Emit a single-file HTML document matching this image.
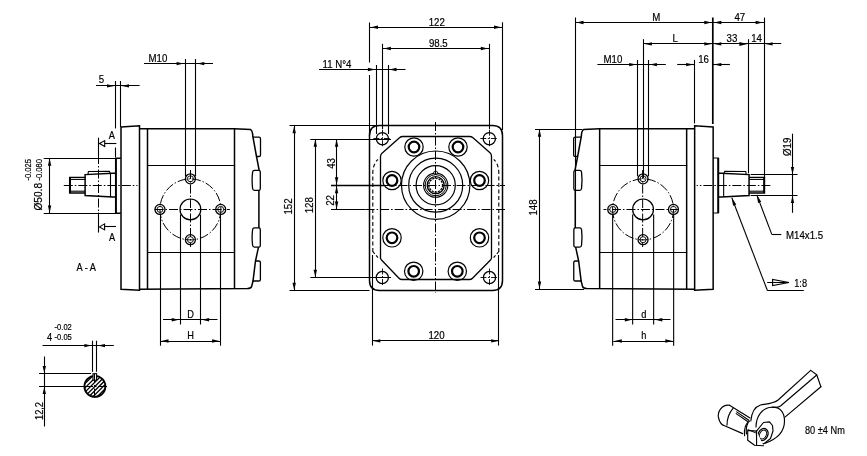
<!DOCTYPE html>
<html><head><meta charset="utf-8"><style>
html,body{margin:0;padding:0;background:#fff;}
svg{display:block;will-change:transform;}
text{font-family:"Liberation Sans",sans-serif;fill:#000;stroke:#000;stroke-width:0.2px;}
</style></head><body>
<svg width="867" height="456" viewBox="0 0 867 456">
<rect x="0" y="0" width="867" height="456" fill="#fff"/>
<g stroke="#000" fill="none" stroke-linecap="butt">
<path d="M121,127 L139.5,125.8 L139.5,290.2 L121,289.2 Z" stroke-width="1.5" fill="none" />
<path d="M139.5,128.8 L234.5,128.8 L250.6,129.6 Q252.6,130.6 252.8,136.2 L256.5,156.5 L259.2,170.4 M258.9,190.3 L258.9,227.9 M258.5,247.1 L255.5,261 L253,281 L251.6,286.6 Q250.8,288.4 247.5,288.6 L139.5,289.2" stroke-width="1.5" fill="none" />
<line x1="147.5" y1="128.8" x2="147.5" y2="289.2" stroke-width="1.5" />
<line x1="234.5" y1="128.8" x2="234.5" y2="289" stroke-width="1.5" />
<line x1="147" y1="165.5" x2="234.5" y2="165.5" stroke-width="1.2" />
<line x1="147" y1="252.5" x2="234.5" y2="252.5" stroke-width="1.2" />
<path d="M253,137.2 L258.9,137.2 Q260.5,137.2 260.5,138.8 L260.5,154.9 Q260.5,156.5 258.9,156.5 L256.5,156.5" stroke-width="1.3" fill="none" />
<path d="M254.5,170.4 L258.7,170.4 Q260.3,170.4 260.3,172.0 L260.3,188.7 Q260.3,190.3 258.7,190.3 L254.5,190.3 Q252.8,190.3 252.6,188.5 Q251.6,180.35000000000002 252.6,172.2 Q252.8,170.4 254.5,170.4 Z" stroke-width="1.3" fill="none" />
<path d="M254.5,227.9 L258.7,227.9 Q260.3,227.9 260.3,229.5 L260.3,245.5 Q260.3,247.1 258.7,247.1 L254.5,247.1 Q252.8,247.1 252.6,245.3 Q251.6,237.5 252.6,229.7 Q252.8,227.9 254.5,227.9 Z" stroke-width="1.3" fill="none" />
<path d="M255.5,261 L258.8,261 Q260.4,261 260.4,262.6 L260.4,279.4 Q260.4,281 258.8,281 L253,281" stroke-width="1.3" fill="none" />
<path d="M121,158 L115.9,158 L115.9,213 L121,213" stroke-width="1.1" fill="none" />
<line x1="115.9" y1="158" x2="115.9" y2="213" stroke-width="1.9" />
<path d="M115.9,173.3 L112.8,173.3 L85.1,174.6 L85.1,195.6 L112.8,197.0 L115.9,197.0" stroke-width="1.5" fill="none" />
<line x1="110.5" y1="173.5" x2="110.5" y2="197" stroke-width="1.1" />
<path d="M110.2,173.3 L109.4,171.3 L88.4,171.5 L88,174.4" stroke-width="1.1" fill="none" />
<path d="M85.1,177.4 L69.6,177.4 L69.6,193 L85.1,193" stroke-width="1.3" fill="none" />
<line x1="70.4" y1="177.4" x2="70.4" y2="193" stroke-width="1.2" />
<line x1="69.6" y1="179.4" x2="85.1" y2="179.4" stroke-width="1.1" />
<line x1="69.6" y1="191.2" x2="85.1" y2="191.2" stroke-width="1.1" />
<circle cx="190.4" cy="209.4" r="30.5" stroke-width="1.0" fill="none" stroke-dasharray="9 2 1.5 2"/>
<circle cx="190.4" cy="209.4" r="10.4" stroke-width="1.2" fill="none" />
<circle cx="190.4" cy="178.8" r="5" stroke-width="1.3" fill="none" />
<circle cx="190.4" cy="178.8" r="3" stroke-width="0.9" fill="none" />
<circle cx="160" cy="209.4" r="5" stroke-width="1.3" fill="none" />
<circle cx="160" cy="209.4" r="3" stroke-width="0.9" fill="none" />
<circle cx="220.7" cy="209.4" r="5" stroke-width="1.3" fill="none" />
<circle cx="220.7" cy="209.4" r="3" stroke-width="0.9" fill="none" />
<circle cx="190.4" cy="239.7" r="5" stroke-width="1.3" fill="none" />
<circle cx="190.4" cy="239.7" r="3" stroke-width="0.9" fill="none" />
<line x1="154.5" y1="209.5" x2="229.9" y2="209.5" stroke-width="1.0" stroke-dasharray="9 2 1.5 2" stroke-dashoffset="0"/>
<line x1="190.5" y1="170" x2="190.5" y2="247" stroke-width="1.0" stroke-dasharray="9 2 1.5 2" stroke-dashoffset="0"/>
<line x1="160.5" y1="214.5" x2="160.5" y2="345.7" stroke-width="1.1" />
<line x1="220.5" y1="214.5" x2="220.5" y2="345.7" stroke-width="1.1" />
<line x1="180.5" y1="214.5" x2="180.5" y2="324.5" stroke-width="1.1" />
<line x1="200.5" y1="214.5" x2="200.5" y2="324.5" stroke-width="1.1" />
<line x1="63.8" y1="185.5" x2="137.5" y2="185.5" stroke-width="1.0" stroke-dasharray="9 2 1.5 2" stroke-dashoffset="0"/>
<line x1="185.5" y1="59" x2="185.5" y2="176.3" stroke-width="1.1" />
<line x1="195.5" y1="59" x2="195.5" y2="176.3" stroke-width="1.1" />
<line x1="96" y1="85.5" x2="139.6" y2="85.5" stroke-width="1.1" />
<polygon points="114.2,85.9 107,84.2 107,87.6" stroke="none" fill="#000"/>
<polygon points="121.8,85.9 129,84.2 129,87.6" stroke="none" fill="#000"/>
<text transform="translate(98.8,82.8) scale(0.88,1)" font-size="11" text-anchor="start">5</text>
<line x1="115.5" y1="81" x2="115.5" y2="128.5" stroke-width="1.1" />
<line x1="115.5" y1="147.5" x2="115.5" y2="157.5" stroke-width="1.1" />
<line x1="120.5" y1="81" x2="120.5" y2="127" stroke-width="1.1" />
<line x1="144" y1="63.5" x2="213" y2="63.5" stroke-width="1.1" />
<polygon points="183.8,63.6 176.6,61.9 176.6,65.3" stroke="none" fill="#000"/>
<polygon points="197.1,63.6 204.3,61.9 204.3,65.3" stroke="none" fill="#000"/>
<text transform="translate(148.5,62) scale(0.88,1)" font-size="11" text-anchor="start">M10</text>
<line x1="98.5" y1="155" x2="98.5" y2="213" stroke-width="1.0" stroke-dasharray="9 2 1.5 2" stroke-dashoffset="0"/>
<line x1="98.5" y1="137.7" x2="98.5" y2="155.7" stroke-width="1.1" />
<line x1="98.5" y1="212.5" x2="98.5" y2="232.6" stroke-width="1.1" />
<path d="M99.5,143.6 L104.7,140.6 L104.7,146.6 Z" stroke-width="1.1" fill="none" />
<line x1="104.7" y1="143.5" x2="116.4" y2="143.5" stroke-width="1.1" />
<path d="M99.5,226.9 L104.6,223.9 L104.6,229.9 Z" stroke-width="1.1" fill="none" />
<line x1="104.6" y1="226.5" x2="116" y2="226.5" stroke-width="1.1" />
<text transform="translate(108.8,139.3) scale(0.88,1)" font-size="10.5" text-anchor="start">A</text>
<text transform="translate(109,240.7) scale(0.88,1)" font-size="10.5" text-anchor="start">A</text>
<text transform="translate(76.5,270.5) scale(0.88,1)" font-size="10.5" text-anchor="start">A - A</text>
<line x1="43.7" y1="158.5" x2="120.6" y2="158.5" stroke-width="1.1" />
<line x1="43.7" y1="213.5" x2="120.6" y2="213.5" stroke-width="1.1" />
<line x1="49.5" y1="158" x2="49.5" y2="213.2" stroke-width="1.1" />
<polygon points="49.6,158.5 47.9,165.7 51.3,165.7" stroke="none" fill="#000"/>
<polygon points="49.6,212.7 47.9,205.5 51.3,205.5" stroke="none" fill="#000"/>
<text transform="translate(42,210.5) rotate(-90) scale(0.88,1)" font-size="11.5" text-anchor="start">Ø50.8</text>
<text transform="translate(42.2,180.5) rotate(-90) scale(0.84,1)" font-size="9" text-anchor="start">-0.080</text>
<text transform="translate(31.2,180.5) rotate(-90) scale(0.84,1)" font-size="9" text-anchor="start">-0.025</text>
<line x1="163" y1="319.5" x2="217.5" y2="319.5" stroke-width="1.1" />
<polygon points="178.9,319.8 171.7,318.1 171.7,321.5" stroke="none" fill="#000"/>
<polygon points="201.9,319.8 209.1,318.1 209.1,321.5" stroke="none" fill="#000"/>
<text transform="translate(190.5,318.2) scale(0.88,1)" font-size="10.5" text-anchor="middle">D</text>
<line x1="160" y1="341.5" x2="220.6" y2="341.5" stroke-width="1.1" />
<polygon points="161.3,341 168.5,339.3 168.5,342.7" stroke="none" fill="#000"/>
<polygon points="219.3,341 212.1,339.3 212.1,342.7" stroke="none" fill="#000"/>
<text transform="translate(190.5,339) scale(0.88,1)" font-size="10.5" text-anchor="middle">H</text>
<line x1="42.5" y1="345.5" x2="113.8" y2="345.5" stroke-width="1.1" />
<polygon points="91.6,345.6 84.4,343.9 84.4,347.3" stroke="none" fill="#000"/>
<polygon points="97.8,345.6 105,343.9 105,347.3" stroke="none" fill="#000"/>
<line x1="92.5" y1="340.7" x2="92.5" y2="371.8" stroke-width="1.1" />
<line x1="96.5" y1="340.7" x2="96.5" y2="371.8" stroke-width="1.1" />
<text transform="translate(47,340.8) scale(0.88,1)" font-size="10.5" text-anchor="start">4</text>
<text transform="translate(54.6,339.8) scale(0.84,1)" font-size="9" text-anchor="start">-0.05</text>
<text transform="translate(54.6,329.8) scale(0.84,1)" font-size="9" text-anchor="start">-0.02</text>
<line x1="39" y1="373.5" x2="91" y2="373.5" stroke-width="1.1" />
<line x1="39" y1="386.5" x2="90" y2="386.5" stroke-width="1.1" />
<line x1="44.5" y1="356.5" x2="44.5" y2="426.5" stroke-width="1.1" />
<polygon points="44.3,373.1 42.6,365.9 46,365.9" stroke="none" fill="#000"/>
<polygon points="44.3,386.9 42.6,394.1 46,394.1" stroke="none" fill="#000"/>
<text transform="translate(42.5,420) rotate(-90) scale(0.88,1)" font-size="10.5" text-anchor="start">12,2</text>
<defs><clipPath id="kc"><circle cx="94.9" cy="386.4" r="10.4"/></clipPath></defs>
<g clip-path="url(#kc)">
<line x1="55.7" y1="400.4" x2="83.7" y2="372.4" stroke-width="1.3" />
<line x1="59.9" y1="400.4" x2="87.9" y2="372.4" stroke-width="1.3" />
<line x1="64.1" y1="400.4" x2="92.1" y2="372.4" stroke-width="1.3" />
<line x1="68.3" y1="400.4" x2="96.3" y2="372.4" stroke-width="1.3" />
<line x1="72.5" y1="400.4" x2="100.5" y2="372.4" stroke-width="1.3" />
<line x1="76.7" y1="400.4" x2="104.7" y2="372.4" stroke-width="1.3" />
<line x1="80.9" y1="400.4" x2="108.9" y2="372.4" stroke-width="1.3" />
<line x1="85.1" y1="400.4" x2="113.1" y2="372.4" stroke-width="1.3" />
<line x1="89.3" y1="400.4" x2="117.3" y2="372.4" stroke-width="1.3" />
<line x1="93.5" y1="400.4" x2="121.5" y2="372.4" stroke-width="1.3" />
<line x1="97.7" y1="400.4" x2="125.7" y2="372.4" stroke-width="1.3" />
<line x1="101.9" y1="400.4" x2="129.9" y2="372.4" stroke-width="1.3" />
<line x1="106.1" y1="400.4" x2="134.1" y2="372.4" stroke-width="1.3" />
</g>
<circle cx="94.9" cy="386.4" r="10.5" stroke-width="1.8" fill="none" />
<rect x="93" y="373.7" width="3.6" height="6.5" fill="#fff" stroke-width="1.1"/>
<line x1="84" y1="386.5" x2="107" y2="386.5" stroke-width="1.0" stroke-dasharray="9 2 1.5 2" stroke-dashoffset="0"/>
<line x1="94.5" y1="374" x2="94.5" y2="398" stroke-width="1.0" stroke-dasharray="9 2 1.5 2" stroke-dashoffset="0"/>
<path d="M369.5,280.5 L369.5,135.5 Q369.5,125.5 379.5,125.5 L492.5,125.5 Q502.5,125.5 502.5,135.5 L502.5,280.5 Q502.5,290.5 492.5,290.5 L379.5,290.5 Q369.5,290.5 369.5,280.5 Z" stroke-width="1.5" fill="none" />
<path d="M380.5,258.8 L380.5,156.5 Q380.5,154.5 382,153.2 L399.5,137.8 Q400.8,136.5 403,136.5 L469.5,136.5 Q471.5,136.5 473,137.8 L490,152.8 Q491.5,154.2 491.5,156.2 L491.5,257.5 Q491.5,259 490.5,260 L472.5,278.2 Q471.3,279.5 469.5,279.5 L402,279.5 Q400.2,279.5 399,278.2 L381.5,260 Q380.5,259 380.5,257.5 Z" stroke-width="1.3" fill="none" />
<path d="M372.8,252 L372.8,172 Q373.5,163 378,159.5" stroke-width="1.1" fill="none" stroke-dasharray="4 2.5"/>
<path d="M498.8,252 L498.8,172 Q498.2,163 493.7,159.5" stroke-width="1.1" fill="none" stroke-dasharray="4 2.5"/>
<path d="M372.8,251.5 L378.7,258.4" stroke-width="1.1" fill="none" stroke-dasharray="3 2"/>
<path d="M498.8,251.5 L492.9,258.4" stroke-width="1.1" fill="none" stroke-dasharray="3 2"/>
<circle cx="382.4" cy="138.7" r="6.1" stroke-width="1.3" fill="none" />
<line x1="373.4" y1="138.5" x2="391.4" y2="138.5" stroke-width="0.9" stroke-dasharray="6 1.5 1.5 1.5" stroke-dashoffset="0"/>
<line x1="382.5" y1="129.7" x2="382.5" y2="147.7" stroke-width="0.9" stroke-dasharray="6 1.5 1.5 1.5" stroke-dashoffset="0"/>
<circle cx="489.3" cy="138.7" r="6.1" stroke-width="1.3" fill="none" />
<line x1="480.3" y1="138.5" x2="498.3" y2="138.5" stroke-width="0.9" stroke-dasharray="6 1.5 1.5 1.5" stroke-dashoffset="0"/>
<line x1="489.5" y1="129.7" x2="489.5" y2="147.7" stroke-width="0.9" stroke-dasharray="6 1.5 1.5 1.5" stroke-dashoffset="0"/>
<circle cx="382.3" cy="277.5" r="6.1" stroke-width="1.3" fill="none" />
<line x1="373.3" y1="277.5" x2="391.3" y2="277.5" stroke-width="0.9" stroke-dasharray="6 1.5 1.5 1.5" stroke-dashoffset="0"/>
<line x1="382.5" y1="268.5" x2="382.5" y2="286.5" stroke-width="0.9" stroke-dasharray="6 1.5 1.5 1.5" stroke-dashoffset="0"/>
<circle cx="489.5" cy="277.5" r="6.1" stroke-width="1.3" fill="none" />
<line x1="480.5" y1="277.5" x2="498.5" y2="277.5" stroke-width="0.9" stroke-dasharray="6 1.5 1.5 1.5" stroke-dashoffset="0"/>
<line x1="489.5" y1="268.5" x2="489.5" y2="286.5" stroke-width="0.9" stroke-dasharray="6 1.5 1.5 1.5" stroke-dashoffset="0"/>
<circle cx="414" cy="147" r="9.2" stroke-width="1.2" fill="none" />
<circle cx="414" cy="147" r="5.3" stroke-width="2.2" fill="none" />
<circle cx="458" cy="147" r="9.2" stroke-width="1.2" fill="none" />
<circle cx="458" cy="147" r="5.3" stroke-width="2.2" fill="none" />
<circle cx="392" cy="180.5" r="9.2" stroke-width="1.2" fill="none" />
<circle cx="392" cy="180.5" r="5.3" stroke-width="2.2" fill="none" />
<circle cx="479.5" cy="180.5" r="9.2" stroke-width="1.2" fill="none" />
<circle cx="479.5" cy="180.5" r="5.3" stroke-width="2.2" fill="none" />
<circle cx="392" cy="237.8" r="9.2" stroke-width="1.2" fill="none" />
<circle cx="392" cy="237.8" r="5.3" stroke-width="2.2" fill="none" />
<circle cx="479.5" cy="237.8" r="9.2" stroke-width="1.2" fill="none" />
<circle cx="479.5" cy="237.8" r="5.3" stroke-width="2.2" fill="none" />
<circle cx="413.7" cy="271.3" r="9.2" stroke-width="1.2" fill="none" />
<circle cx="413.7" cy="271.3" r="5.3" stroke-width="2.2" fill="none" />
<circle cx="457.3" cy="271.3" r="9.2" stroke-width="1.2" fill="none" />
<circle cx="457.3" cy="271.3" r="5.3" stroke-width="2.2" fill="none" />
<circle cx="435.7" cy="185.2" r="34.2" stroke-width="1.2" fill="none" />
<circle cx="435.7" cy="185.2" r="27" stroke-width="1.2" fill="none" />
<circle cx="435.7" cy="185.2" r="19.6" stroke-width="1.2" fill="none" />
<circle cx="435.7" cy="185.2" r="12.1" stroke-width="1.1" fill="none" />
<circle cx="435.7" cy="185.2" r="10.6" stroke-width="1.0" fill="none" />
<circle cx="435.7" cy="185.2" r="8.5" stroke-width="1.3" fill="none" />
<circle cx="435.7" cy="185.2" r="6.9" stroke-width="1.3" fill="none" stroke-dasharray="2.2 1"/>
<rect x="433.8" y="171.4" width="3.6" height="2.6" rx="0.8" stroke-width="1" fill="#fff"/>
<line x1="435.5" y1="122" x2="435.5" y2="293" stroke-width="1.0" stroke-dasharray="9 2 1.5 2" stroke-dashoffset="0"/>
<line x1="331" y1="185.5" x2="384" y2="185.5" stroke-width="1.3" />
<line x1="384" y1="185.5" x2="505" y2="185.5" stroke-width="1.0" stroke-dasharray="9 2 1.5 2" stroke-dashoffset="0"/>
<line x1="331" y1="209.5" x2="365.6" y2="209.5" stroke-width="1.2" />
<line x1="365.6" y1="209.5" x2="505" y2="209.5" stroke-width="1.0" stroke-dasharray="9 2 1.5 2" stroke-dashoffset="0"/>
<line x1="369.5" y1="22.5" x2="369.5" y2="62.5" stroke-width="1.1" />
<line x1="369.5" y1="75" x2="369.5" y2="136" stroke-width="1.1" />
<line x1="369.5" y1="27.5" x2="502.5" y2="27.5" stroke-width="1.1" />
<polygon points="370.8,27.3 378,25.6 378,29" stroke="none" fill="#000"/>
<polygon points="501.2,27.3 494,25.6 494,29" stroke="none" fill="#000"/>
<line x1="502.5" y1="22.3" x2="502.5" y2="130" stroke-width="1.1" />
<text transform="translate(436.8,25.6) scale(0.88,1)" font-size="11" text-anchor="middle">122</text>
<line x1="382.5" y1="43.8" x2="382.5" y2="129" stroke-width="1.1" />
<line x1="489.5" y1="43.8" x2="489.5" y2="129" stroke-width="1.1" />
<line x1="382.4" y1="48.5" x2="489.3" y2="48.5" stroke-width="1.1" />
<polygon points="383.7,48.5 390.9,46.8 390.9,50.2" stroke="none" fill="#000"/>
<polygon points="488,48.5 480.8,46.8 480.8,50.2" stroke="none" fill="#000"/>
<text transform="translate(438.3,46.8) scale(0.88,1)" font-size="11" text-anchor="middle">98.5</text>
<line x1="376.5" y1="65" x2="376.5" y2="134" stroke-width="1.1" />
<line x1="388.5" y1="65" x2="388.5" y2="134" stroke-width="1.1" />
<line x1="319" y1="69.5" x2="405.5" y2="69.5" stroke-width="1.1" />
<polygon points="375.1,69.5 367.9,67.8 367.9,71.2" stroke="none" fill="#000"/>
<polygon points="389.3,69.5 396.5,67.8 396.5,71.2" stroke="none" fill="#000"/>
<text transform="translate(322.5,68.2) scale(0.88,1)" font-size="11" text-anchor="start">11 N°4</text>
<line x1="289.5" y1="125.5" x2="380" y2="125.5" stroke-width="1.1" />
<line x1="289.5" y1="290.5" x2="369.5" y2="290.5" stroke-width="1.1" />
<line x1="294.5" y1="125.5" x2="294.5" y2="290.5" stroke-width="1.1" />
<polygon points="294.2,126 292.5,133.2 295.9,133.2" stroke="none" fill="#000"/>
<polygon points="294.2,290 292.5,282.8 295.9,282.8" stroke="none" fill="#000"/>
<text transform="translate(292.4,214.6) rotate(-90) scale(0.88,1)" font-size="11" text-anchor="start">152</text>
<line x1="310.3" y1="139.5" x2="391" y2="139.5" stroke-width="1.1" />
<line x1="310.3" y1="277.5" x2="391" y2="277.5" stroke-width="1.1" />
<line x1="315.5" y1="139" x2="315.5" y2="277.5" stroke-width="1.1" />
<polygon points="315.3,139.5 313.6,146.7 317,146.7" stroke="none" fill="#000"/>
<polygon points="315.3,277 313.6,269.8 317,269.8" stroke="none" fill="#000"/>
<text transform="translate(313.2,213.3) rotate(-90) scale(0.88,1)" font-size="11" text-anchor="start">128</text>
<line x1="336.5" y1="139" x2="336.5" y2="209.2" stroke-width="1.1" />
<polygon points="336.6,139.5 334.9,146.7 338.3,146.7" stroke="none" fill="#000"/>
<polygon points="336.6,184.5 334.9,177.3 338.3,177.3" stroke="none" fill="#000"/>
<polygon points="336.6,186.1 334.9,193.3 338.3,193.3" stroke="none" fill="#000"/>
<polygon points="336.6,208.7 334.9,201.5 338.3,201.5" stroke="none" fill="#000"/>
<text transform="translate(335.2,168.8) rotate(-90) scale(0.88,1)" font-size="11" text-anchor="start">43</text>
<text transform="translate(334.1,205.8) rotate(-90) scale(0.88,1)" font-size="11" text-anchor="start">22</text>
<line x1="372.5" y1="255" x2="372.5" y2="345.6" stroke-width="1.1" />
<line x1="498.5" y1="255" x2="498.5" y2="345.6" stroke-width="1.1" />
<line x1="372.8" y1="340.5" x2="498.7" y2="340.5" stroke-width="1.1" />
<polygon points="373.1,340.9 380.3,339.2 380.3,342.6" stroke="none" fill="#000"/>
<polygon points="498.4,340.9 491.2,339.2 491.2,342.6" stroke="none" fill="#000"/>
<text transform="translate(436.5,339) scale(0.88,1)" font-size="11" text-anchor="middle">120</text>
<g transform="matrix(-1,0,0,1,834.15,0)">
<path d="M121,127 L139.5,125.8 L139.5,290.2 L121,289.2 Z" stroke-width="1.5" fill="none" />
<path d="M139.5,128.8 L234.5,128.8 L250.6,129.6 Q252.6,130.6 252.8,136.2 L256.5,156.5 L259.2,170.4 M258.9,190.3 L258.9,227.9 M258.5,247.1 L255.5,261 L253,281 L251.6,286.6 Q250.8,288.4 247.5,288.6 L139.5,289.2" stroke-width="1.5" fill="none" />
<line x1="147.5" y1="128.8" x2="147.5" y2="289.2" stroke-width="1.5" />
<line x1="234.5" y1="128.8" x2="234.5" y2="289" stroke-width="1.5" />
<line x1="147" y1="165.5" x2="234.5" y2="165.5" stroke-width="1.2" />
<line x1="147" y1="252.5" x2="234.5" y2="252.5" stroke-width="1.2" />
<path d="M253,137.2 L258.9,137.2 Q260.5,137.2 260.5,138.8 L260.5,154.9 Q260.5,156.5 258.9,156.5 L256.5,156.5" stroke-width="1.3" fill="none" />
<path d="M254.5,170.4 L258.7,170.4 Q260.3,170.4 260.3,172.0 L260.3,188.7 Q260.3,190.3 258.7,190.3 L254.5,190.3 Q252.8,190.3 252.6,188.5 Q251.6,180.35000000000002 252.6,172.2 Q252.8,170.4 254.5,170.4 Z" stroke-width="1.3" fill="none" />
<path d="M254.5,227.9 L258.7,227.9 Q260.3,227.9 260.3,229.5 L260.3,245.5 Q260.3,247.1 258.7,247.1 L254.5,247.1 Q252.8,247.1 252.6,245.3 Q251.6,237.5 252.6,229.7 Q252.8,227.9 254.5,227.9 Z" stroke-width="1.3" fill="none" />
<path d="M255.5,261 L258.8,261 Q260.4,261 260.4,262.6 L260.4,279.4 Q260.4,281 258.8,281 L253,281" stroke-width="1.3" fill="none" />
<path d="M121,158 L115.9,158 L115.9,213 L121,213" stroke-width="1.1" fill="none" />
<line x1="115.9" y1="158" x2="115.9" y2="213" stroke-width="1.9" />
<path d="M115.9,173.3 L112.8,173.3 L85.1,174.6 L85.1,195.6 L112.8,197.0 L115.9,197.0" stroke-width="1.5" fill="none" />
<line x1="110.5" y1="173.5" x2="110.5" y2="197" stroke-width="1.1" />
<path d="M110.2,173.3 L109.4,171.3 L88.4,171.5 L88,174.4" stroke-width="1.1" fill="none" />
<path d="M85.1,177.4 L69.6,177.4 L69.6,193 L85.1,193" stroke-width="1.3" fill="none" />
<line x1="70.4" y1="177.4" x2="70.4" y2="193" stroke-width="1.2" />
<line x1="69.6" y1="179.4" x2="85.1" y2="179.4" stroke-width="1.1" />
<line x1="69.6" y1="191.2" x2="85.1" y2="191.2" stroke-width="1.1" />
<circle cx="191.1" cy="209.4" r="30.5" stroke-width="1.0" fill="none" stroke-dasharray="9 2 1.5 2"/>
<circle cx="191.1" cy="209.4" r="10.4" stroke-width="1.2" fill="none" />
<circle cx="191.1" cy="178.8" r="5" stroke-width="1.3" fill="none" />
<circle cx="191.1" cy="178.8" r="3" stroke-width="0.9" fill="none" />
<circle cx="160.7" cy="209.4" r="5" stroke-width="1.3" fill="none" />
<circle cx="160.7" cy="209.4" r="3" stroke-width="0.9" fill="none" />
<circle cx="221.4" cy="209.4" r="5" stroke-width="1.3" fill="none" />
<circle cx="221.4" cy="209.4" r="3" stroke-width="0.9" fill="none" />
<circle cx="191.1" cy="239.7" r="5" stroke-width="1.3" fill="none" />
<circle cx="191.1" cy="239.7" r="3" stroke-width="0.9" fill="none" />
<line x1="155.2" y1="209.5" x2="230.6" y2="209.5" stroke-width="1.0" stroke-dasharray="9 2 1.5 2" stroke-dashoffset="0"/>
<line x1="191.5" y1="170" x2="191.5" y2="247" stroke-width="1.0" stroke-dasharray="9 2 1.5 2" stroke-dashoffset="0"/>
<line x1="160.5" y1="214.5" x2="160.5" y2="345.7" stroke-width="1.1" />
<line x1="221.5" y1="214.5" x2="221.5" y2="345.7" stroke-width="1.1" />
<line x1="180.5" y1="214.5" x2="180.5" y2="324.5" stroke-width="1.1" />
<line x1="201.5" y1="214.5" x2="201.5" y2="324.5" stroke-width="1.1" />
<line x1="63.8" y1="185.5" x2="137.5" y2="185.5" stroke-width="1.0" stroke-dasharray="9 2 1.5 2" stroke-dashoffset="0"/>
</g>
<line x1="637.5" y1="60" x2="637.5" y2="176.3" stroke-width="1.1" />
<line x1="648.5" y1="60" x2="648.5" y2="176.3" stroke-width="1.1" />
<line x1="575.5" y1="17.5" x2="575.5" y2="228" stroke-width="1.1" />
<line x1="712.8" y1="17.5" x2="712.8" y2="124" stroke-width="1.7" />
<line x1="764.5" y1="17.5" x2="764.5" y2="177.4" stroke-width="1.1" />
<line x1="575" y1="22.5" x2="764.1" y2="22.5" stroke-width="1.1" />
<polygon points="576.3,22.5 583.5,20.8 583.5,24.2" stroke="none" fill="#000"/>
<polygon points="711.5,22.5 704.3,20.8 704.3,24.2" stroke="none" fill="#000"/>
<polygon points="714.1,22.5 721.3,20.8 721.3,24.2" stroke="none" fill="#000"/>
<polygon points="762.8,22.5 755.6,20.8 755.6,24.2" stroke="none" fill="#000"/>
<text transform="translate(656.3,20.6) scale(0.88,1)" font-size="11" text-anchor="middle">M</text>
<text transform="translate(739.8,20.6) scale(0.88,1)" font-size="11" text-anchor="middle">47</text>
<line x1="643.5" y1="39.2" x2="643.5" y2="178" stroke-width="1.1" />
<line x1="748.5" y1="39.2" x2="748.5" y2="173.3" stroke-width="1.1" />
<line x1="643.4" y1="43.5" x2="781.2" y2="43.5" stroke-width="1.1" />
<polygon points="644.7,43.9 651.9,42.2 651.9,45.6" stroke="none" fill="#000"/>
<polygon points="711.5,43.9 704.3,42.2 704.3,45.6" stroke="none" fill="#000"/>
<polygon points="714.1,43.9 721.3,42.2 721.3,45.6" stroke="none" fill="#000"/>
<polygon points="747.4,43.9 739.4,41.9 739.4,45.9" stroke="none" fill="#000"/>
<polygon points="765.4,43.9 772.6,42.2 772.6,45.6" stroke="none" fill="#000"/>
<text transform="translate(675.3,42) scale(0.88,1)" font-size="11" text-anchor="middle">L</text>
<text transform="translate(731.9,42) scale(0.88,1)" font-size="11" text-anchor="middle">33</text>
<text transform="translate(756.6,42) scale(0.88,1)" font-size="11" text-anchor="middle">14</text>
<line x1="597.4" y1="64.5" x2="665.8" y2="64.5" stroke-width="1.1" />
<polygon points="636.4,64.6 629.2,62.9 629.2,66.3" stroke="none" fill="#000"/>
<polygon points="649.7,64.6 656.9,62.9 656.9,66.3" stroke="none" fill="#000"/>
<text transform="translate(603.5,63) scale(0.88,1)" font-size="11" text-anchor="start">M10</text>
<line x1="694.5" y1="59.9" x2="694.5" y2="123.5" stroke-width="1.1" />
<line x1="677.2" y1="64.5" x2="694.6" y2="64.5" stroke-width="1.1" />
<polygon points="693.3,64.6 686.1,62.9 686.1,66.3" stroke="none" fill="#000"/>
<line x1="712.8" y1="64.5" x2="729.9" y2="64.5" stroke-width="1.1" />
<polygon points="714.1,64.6 721.3,62.9 721.3,66.3" stroke="none" fill="#000"/>
<text transform="translate(703.6,63) scale(0.88,1)" font-size="11" text-anchor="middle">16</text>
<line x1="535" y1="129.5" x2="582.5" y2="129.5" stroke-width="1.1" />
<line x1="535" y1="289.5" x2="584" y2="289.5" stroke-width="1.1" />
<line x1="539.5" y1="129" x2="539.5" y2="289.3" stroke-width="1.1" />
<polygon points="539.5,129.5 537.8,136.7 541.2,136.7" stroke="none" fill="#000"/>
<polygon points="539.5,288.8 537.8,281.6 541.2,281.6" stroke="none" fill="#000"/>
<text transform="translate(537.2,215.6) rotate(-90) scale(0.88,1)" font-size="11" text-anchor="start">148</text>
<line x1="615.5" y1="319.5" x2="670.5" y2="319.5" stroke-width="1.1" />
<polygon points="632,319.8 624.8,318.1 624.8,321.5" stroke="none" fill="#000"/>
<polygon points="655.1,319.8 662.3,318.1 662.3,321.5" stroke="none" fill="#000"/>
<text transform="translate(643.8,318.2) scale(0.88,1)" font-size="10.5" text-anchor="middle">d</text>
<line x1="613.3" y1="341.5" x2="673.8" y2="341.5" stroke-width="1.1" />
<polygon points="614.6,341 621.8,339.3 621.8,342.7" stroke="none" fill="#000"/>
<polygon points="672.5,341 665.3,339.3 665.3,342.7" stroke="none" fill="#000"/>
<text transform="translate(643.8,339) scale(0.88,1)" font-size="10.5" text-anchor="middle">h</text>
<line x1="750.6" y1="174.5" x2="797.5" y2="174.5" stroke-width="1.1" />
<line x1="750.6" y1="195.5" x2="797.5" y2="195.5" stroke-width="1.1" />
<line x1="792.5" y1="133.7" x2="792.5" y2="212.8" stroke-width="1.1" />
<polygon points="792.5,174.1 790.8,166.9 794.2,166.9" stroke="none" fill="#000"/>
<polygon points="792.5,195.9 790.8,203.1 794.2,203.1" stroke="none" fill="#000"/>
<text transform="translate(790.6,156) rotate(-90) scale(0.88,1)" font-size="11" text-anchor="start">Ø19</text>
<line x1="756.8" y1="194.9" x2="771.8" y2="234.4" stroke-width="1.1" />
<polygon points="756.8,194.9 758.05,202.98 761.23,201.78" stroke="none" fill="#000"/>
<line x1="771.8" y1="234.5" x2="781.3" y2="234.5" stroke-width="1.1" />
<text transform="translate(786,238.8) scale(0.88,1)" font-size="11" text-anchor="start">M14x1.5</text>
<line x1="731.8" y1="197.7" x2="767.5" y2="290.8" stroke-width="1.1" />
<polygon points="731.8,197.7 733.08,205.78 736.25,204.56" stroke="none" fill="#000"/>
<line x1="767.5" y1="290.5" x2="803.8" y2="290.5" stroke-width="1.1" />
<path d="M767.2,282.5 L789,282.5 L772.6,279.4 L772.6,285.6 L789,282.5" stroke-width="1.1" fill="none" />
<text transform="translate(794.2,286.6) scale(0.84,1)" font-size="11" text-anchor="start">1:8</text>
</g>
<g stroke="#000" stroke-width="1.15" fill="none" stroke-linejoin="round" stroke-linecap="round">
<path d="M810.7,370.4 L778.1,400 C774,403.5 766,404 760.5,405 C754,407 751.5,414 750.8,421"/>
<path d="M810.7,370.4 L816.7,374.7 L820.9,386.7"/>
<path d="M816.7,375 L780.5,406 C777.5,408 775,407.5 772,407.2"/>
<path d="M820.9,386.7 L785.3,416.9"/>
<path d="M756,427 C756,417 762,407.5 772,407.2 C780,407 784.5,412 784.5,421 C784.5,430 779,438.5 764.6,443.4"/>
<path d="M729.5,405.2 L750,417.9"/>
<path d="M729.5,405.2 C722,404 717,412 718.6,418 C719.5,422 722,425 724.6,425.7 L742.7,433.6"/>
<path d="M733,408.3 C729,413 727,419 727,425.1"/>
<path d="M736.7,411.9 L748.8,420.3 M736.2,413.6 L748.3,422" stroke-width="1.1"/>
<path d="M749.5,421 C745,424 744,430 744.6,435.7"/>
<path d="M747.8,423.5 C746,427 746,431 746.5,434"/>
<path d="M756.5,431.1 L763.5,422.5 L769.5,421.9 L772.5,425.5 L773,431 L770.5,438.5 L764,443.6 L756.6,445.3 Z" fill="#fff"/>
<ellipse cx="763" cy="434.5" rx="4.8" ry="6.3" transform="rotate(25 763 434.5)" stroke-width="1.3"/>
<ellipse cx="763" cy="434.5" rx="3.3" ry="4.7" transform="rotate(25 763 434.5)" stroke-width="1.0"/>
<path d="M756.5,431.1 L747.7,430.4 L747.7,440.3 L754.6,445.3 L763.5,445.7" fill="#fff"/>
<path d="M748,429.6 L756.3,433.2" stroke-width="0.9"/>
<path d="M756.5,431.1 L756.6,445.3"/>
</g>
<text transform="translate(805,433.8) scale(0.8,1)" font-size="11.5" text-anchor="start">80 ±4 Nm</text>
</svg>
</body></html>
